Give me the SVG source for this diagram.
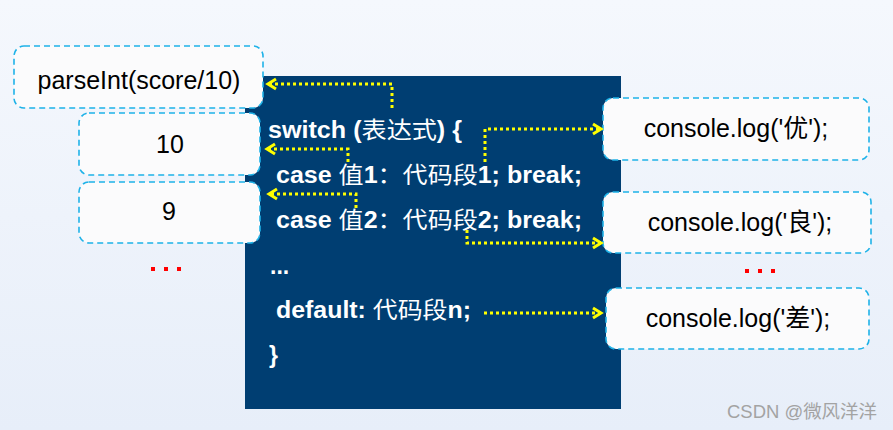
<svg xmlns="http://www.w3.org/2000/svg" width="893" height="430" viewBox="0 0 893 430">
  <defs>
    <linearGradient id="bg" x1="0" y1="0" x2="0" y2="1">
      <stop offset="0" stop-color="#f5f8fd"/>
      <stop offset="1" stop-color="#e7eef9"/>
    </linearGradient>
    <marker id="chev" markerUnits="userSpaceOnUse" markerWidth="14" markerHeight="14" viewBox="-2 -2 14 14" refX="8" refY="5" orient="auto">
      <path d="M0,0 L8,5 L0,10" fill="none" stroke="#ffff00" stroke-width="3" stroke-dasharray="none"/>
    </marker>
    <style>
      .box { fill: #fbfbfc; stroke: #1eb2e8; stroke-width: 1.6; stroke-dasharray: 6 4; }
      .bt { font-family: "Liberation Sans", Arial, "Noto Sans CJK SC", sans-serif; font-size: 25px; fill: #000; text-anchor: middle; }
      .code { font-family: "Liberation Sans", Arial, "Noto Sans CJK SC", sans-serif; font-size: 23px; font-weight: bold; fill: #ffffff; }
      .zh { font-family: "Noto Sans CJK SC", sans-serif; font-weight: normal; }
      .arr { fill: none; stroke: #ffff00; stroke-width: 3; stroke-dasharray: 3 3; marker-end: url(#chev); }
      .dot { fill: #ff0000; }
      .wm { font-family: "Liberation Sans", Arial, "Noto Sans CJK SC", sans-serif; font-size: 18px; fill: #a3a3a3; }
    </style>
  </defs>

  <rect x="0" y="0" width="893" height="430" fill="url(#bg)"/>

  <g id="switch-block">
    <rect x="245" y="76" width="376" height="333" fill="#003e72"/>
    <text class="code" x="268" y="138" textLength="194" lengthAdjust="spacingAndGlyphs">switch (<tspan class="zh">表达式</tspan>) {</text>
    <text class="code" x="276" y="183" textLength="306" lengthAdjust="spacingAndGlyphs">case <tspan class="zh">值</tspan>1<tspan class="zh">：代码段</tspan>1; break;</text>
    <text class="code" x="276" y="228" textLength="306" lengthAdjust="spacingAndGlyphs">case <tspan class="zh">值</tspan>2<tspan class="zh">：代码段</tspan>2; break;</text>
    <text class="code" x="270" y="274">...</text>
    <text class="code" x="276" y="318" textLength="195" lengthAdjust="spacingAndGlyphs">default: <tspan class="zh">代码段</tspan>n;</text>
    <text class="code" x="269" y="363">}</text>
  </g>

  <g id="node-parseint">
    <rect class="box" x="14" y="46" width="249" height="62" rx="10"/>
    <text class="bt" x="139" y="89">parseInt(score/10)</text>
  </g>
  <g id="node-10">
    <rect class="box" x="79" y="113" width="181" height="62" rx="10"/>
    <text class="bt" x="170" y="153">10</text>
  </g>
  <g id="node-9">
    <rect class="box" x="79" y="182" width="181" height="61" rx="10"/>
    <text class="bt" x="169" y="220">9</text>
  </g>
  <g id="dots-left">
    <rect class="dot" x="151" y="267" width="4" height="4"/>
    <rect class="dot" x="164" y="267" width="4" height="4"/>
    <rect class="dot" x="177" y="267" width="4" height="4"/>
  </g>

  <g id="node-you">
    <rect class="box" x="603" y="98" width="266" height="62" rx="10"/>
    <text class="bt" x="736" y="137">console.log('<tspan class="zh">优</tspan>');</text>
  </g>
  <g id="node-liang">
    <rect class="box" x="603" y="192" width="268" height="61" rx="10"/>
    <text class="bt" x="740" y="231">console.log('<tspan class="zh">良</tspan>');</text>
  </g>
  <g id="dots-right">
    <rect class="dot" x="745" y="269" width="4" height="4"/>
    <rect class="dot" x="758" y="269" width="4" height="4"/>
    <rect class="dot" x="771" y="269" width="4" height="4"/>
  </g>
  <g id="node-cha">
    <rect class="box" x="606" y="288" width="263" height="61" rx="10"/>
    <text class="bt" x="738" y="327">console.log('<tspan class="zh">差</tspan>');</text>
  </g>

  <g id="connectors">
    <path class="arr" d="M392,108 V84 H268"/>
    <path class="arr" d="M348,162 V149 H267"/>
    <path class="arr" d="M356,208 V194 H269"/>
    <path class="arr" d="M485,162 V129 H601"/>
    <path class="arr" d="M467,230 V243 H601"/>
    <path class="arr" d="M484,313 H601"/>
  </g>

  <text class="wm" x="727" y="418" textLength="150" lengthAdjust="spacingAndGlyphs">CSDN @微风洋洋</text>
</svg>
